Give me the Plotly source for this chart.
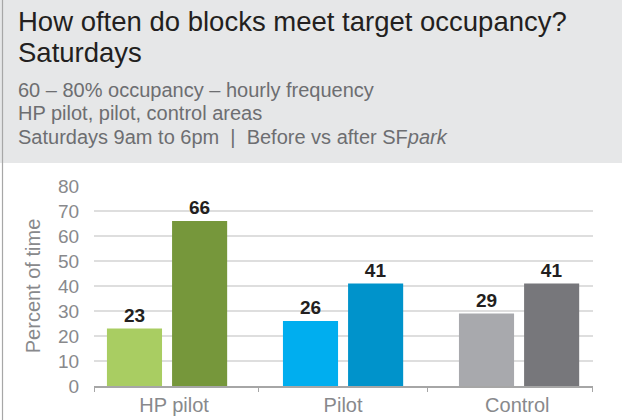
import plotly.graph_objects as go

# ---- data ----
categories = ["HP pilot", "Pilot", "Control"]
before_values = [23, 26, 29]
after_values = [66, 41, 41]
y_ticks = [0, 10, 20, 30, 40, 50, 60, 70, 80]

title_lines = ["How often do blocks meet target occupancy?", "Saturdays"]
subtitle_lines = [
    "60 – 80% occupancy – hourly frequency",
    "HP pilot, pilot, control areas",
    "Saturdays 9am to 6pm  |  Before vs after SF<i>park</i>",
]
y_title = "Percent of time"

before_colors = ["#a9cd62", "#00aeef", "#a8a9ad"]
after_colors = ["#76973b", "#0093cb", "#77777b"]

# ---- layout geometry (pixels) ----
W, H = 622, 420
ML, MR, MT, MB = 94, 29, 186, 34
PW = W - ML - MR
PH = H - MT - MB
FONT = "Liberation Sans, Arial, Helvetica, sans-serif"


def px_x(px):
    return (px - ML) / PW


def px_y(py):
    return (H - MB - py) / PH


xs = list(range(len(categories)))

fig = go.Figure()
fig.add_trace(go.Bar(
    x=xs, y=before_values, name="Before",
    marker=dict(color=before_colors, line=dict(width=0)),
    text=[str(v) for v in before_values], textposition="outside",
    textfont=dict(family=FONT, size=19, color="#231f20", weight="bold"),
    cliponaxis=False, hoverinfo="skip",
))
fig.add_trace(go.Bar(
    x=xs, y=after_values, name="After",
    marker=dict(color=after_colors, line=dict(width=0)),
    text=[str(v) for v in after_values], textposition="outside",
    textfont=dict(family=FONT, size=19, color="#231f20", weight="bold"),
    cliponaxis=False, hoverinfo="skip",
))

shapes = [
    # header band
    dict(type="rect", xref="paper", yref="paper",
         x0=px_x(0), x1=px_x(W), y0=px_y(163), y1=px_y(0),
         fillcolor="#e6e7e8", line=dict(width=0), layer="below"),
    # left frame line
    dict(type="line", xref="paper", yref="paper",
         x0=px_x(2.5), x1=px_x(2.5), y0=px_y(H), y1=px_y(0),
         line=dict(color="#a7a7a7", width=1.2)),
]

annotations = []
title_mid = [21, 52]
for line, ym in zip(title_lines, title_mid):
    annotations.append(dict(
        text=line, xref="paper", yref="paper", x=px_x(16), y=px_y(ym),
        xanchor="left", yanchor="middle", showarrow=False,
        font=dict(family=FONT, size=27.5, color="#231f20")))
sub_mid = [89.5, 113, 136.5]
for line, ym in zip(subtitle_lines, sub_mid):
    annotations.append(dict(
        text=line, xref="paper", yref="paper", x=px_x(16), y=px_y(ym),
        xanchor="left", yanchor="middle", showarrow=False,
        font=dict(family=FONT, size=20, color="#6d6e71")))

x_range = [-0.415, 2.42]

fig.update_layout(
    width=W, height=H,
    margin=dict(l=ML, r=MR, t=MT, b=MB, pad=0),
    paper_bgcolor="white", plot_bgcolor="white",
    barmode="group", bargap=0.26, bargroupgap=0.154,
    showlegend=False,
    shapes=shapes, annotations=annotations,
    font=dict(family=FONT),
    xaxis=dict(
        range=x_range, tickmode="array", tickvals=[0.04, 1, 1.99],
        ticktext=categories, ticks="", showgrid=False, zeroline=False,
        showline=True, linecolor="#a6a6a6", linewidth=1.5,
        tickfont=dict(family=FONT, size=20, color="#88898c"),
        minor=dict(ticks="outside", tickmode="array",
                   tickvals=[-0.414, 0.517, 1.477, 2.419],
                   ticklen=4, tickwidth=1, tickcolor="#a6a6a6", showgrid=False),
        automargin=False, fixedrange=True,
    ),
    yaxis=dict(
        range=[0, 80], tickmode="array", tickvals=y_ticks,
        ticks="outside", ticklen=10, tickcolor="rgba(0,0,0,0)",
        showgrid=True, gridcolor="#dedede", gridwidth=1.5,
        zeroline=False, showline=False,
        tickfont=dict(family=FONT, size=19, color="#88898c"),
        title=dict(text=y_title, standoff=12,
                   font=dict(family=FONT, size=20, color="#88898c")),
        automargin=False, fixedrange=True,
    ),
)

fig.write_html(
    "out.html",
    config={"displayModeBar": False, "staticPlot": True},
    post_script="document.body.style.margin='0';document.body.style.overflow='hidden';",
)
